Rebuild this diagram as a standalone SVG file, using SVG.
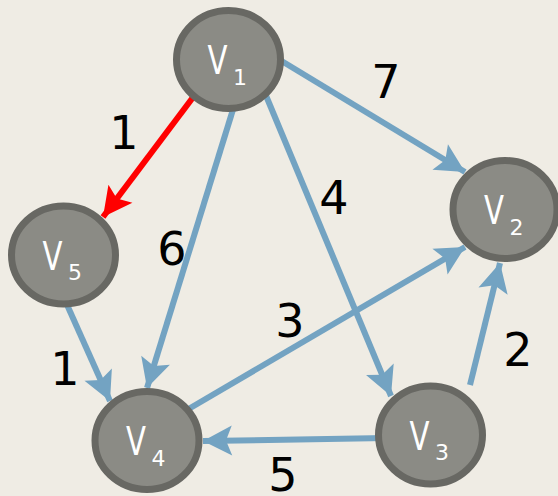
<svg xmlns="http://www.w3.org/2000/svg" width="558" height="496" viewBox="0 0 558 496">
<style>
.bg{fill:#efece4}
.node ellipse{fill:#8b8b85;stroke:#686863;stroke-width:7}
.vt{font-family:"DejaVu Sans",sans-serif;font-size:39px;fill:#ffffff}
.vs{font-family:"DejaVu Sans",sans-serif;font-size:22px;fill:#ffffff;text-anchor:middle}
.edge{stroke:#73a3c2;stroke-width:6;fill:none;marker-end:url(#ab)}
.edge.red{stroke:#ff0000;marker-end:url(#ar)}
.lbl{font-family:"DejaVu Sans",sans-serif;font-size:46px;fill:#000000;text-anchor:middle}
</style>
<defs>
<marker id="ab" markerUnits="userSpaceOnUse" viewBox="-30 -16 32 32" refX="0" refY="0" markerWidth="32" markerHeight="32" orient="auto">
<path d="M0,0 L-29,-15 L-23,0 L-29,15 Z" fill="#73a3c2"/>
</marker>
<marker id="ar" markerUnits="userSpaceOnUse" viewBox="-30 -16 32 32" refX="0" refY="0" markerWidth="32" markerHeight="32" orient="auto">
<path d="M0,0 L-29,-15 L-23,0 L-29,15 Z" fill="#ff0000"/>
</marker>
</defs>
<rect class="bg" x="0" y="0" width="558" height="496"/>
<g id="connectors">
<line class="edge red" x1="200" y1="88" x2="103" y2="217"/>
<line class="edge" x1="275" y1="57" x2="465" y2="172"/>
<line class="edge" x1="262" y1="86" x2="391" y2="396"/>
<line class="edge" x1="235" y1="103" x2="147" y2="388"/>
<line class="edge" x1="64" y1="298" x2="110" y2="401"/>
<line class="edge" x1="180" y1="414" x2="465" y2="247"/>
<line class="edge" x1="470" y1="385" x2="500" y2="263"/>
<line class="edge" x1="386" y1="438" x2="203" y2="441"/>
</g>
<g id="labels">
<text class="lbl" x="124" y="149">1</text>
<text class="lbl" x="386" y="98">7</text>
<text class="lbl" x="334" y="214">4</text>
<text class="lbl" x="172" y="265">6</text>
<text class="lbl" x="290" y="337">3</text>
<text class="lbl" x="518" y="366">2</text>
<text class="lbl" x="65" y="385">1</text>
<text class="lbl" x="283" y="491">5</text>
</g>
<g id="V1" class="node">
<ellipse cx="228.5" cy="59.5" rx="52" ry="49"/>
<text class="vt" x="207.5" y="74" textLength="20" lengthAdjust="spacingAndGlyphs">V</text>
<text class="vs" x="240" y="84.5">1</text>
</g>
<g id="V2" class="node">
<ellipse cx="505" cy="209.5" rx="52" ry="49"/>
<text class="vt" x="484" y="224" textLength="20" lengthAdjust="spacingAndGlyphs">V</text>
<text class="vs" x="516.5" y="234.5">2</text>
</g>
<g id="V3" class="node">
<ellipse cx="430.5" cy="435" rx="52" ry="49"/>
<text class="vt" x="409.5" y="449.5" textLength="20" lengthAdjust="spacingAndGlyphs">V</text>
<text class="vs" x="442" y="460">3</text>
</g>
<g id="V4" class="node">
<ellipse cx="147" cy="440.5" rx="52" ry="49"/>
<text class="vt" x="126" y="455" textLength="20" lengthAdjust="spacingAndGlyphs">V</text>
<text class="vs" x="158.5" y="465.5">4</text>
</g>
<g id="V5" class="node">
<ellipse cx="63.5" cy="255" rx="52" ry="49"/>
<text class="vt" x="42.5" y="269.5" textLength="20" lengthAdjust="spacingAndGlyphs">V</text>
<text class="vs" x="75" y="280">5</text>
</g>
</svg>
